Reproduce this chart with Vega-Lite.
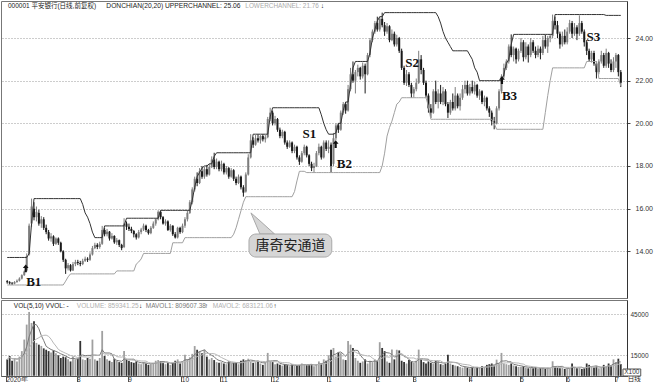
{
"$schema":"https://vega.github.io/schema/vega-lite/v6.json",
"padding":0,
"spacing":0,
"background":"white",
"config":{"view":{"stroke":"#777","strokeWidth":1},"font":"Liberation Sans"},
"datasets":{
"k":[
{"i":0,"o":12.60,"h":12.65,"l":12.48,"c":12.55,"v":12000,"up":13.71,"lo":12.42},
{"i":1,"o":12.55,"h":12.60,"l":12.44,"c":12.50,"v":14500,"up":13.71,"lo":12.42},
{"i":2,"o":12.50,"h":12.56,"l":12.42,"c":12.48,"v":11000,"up":13.71,"lo":12.42},
{"i":3,"o":12.48,"h":12.60,"l":12.45,"c":12.56,"v":13000,"up":13.71,"lo":12.42},
{"i":4,"o":12.56,"h":12.68,"l":12.52,"c":12.62,"v":10500,"up":13.71,"lo":12.42},
{"i":5,"o":12.62,"h":12.78,"l":12.58,"c":12.72,"v":14000,"up":13.71,"lo":12.42},
{"i":6,"o":12.72,"h":12.92,"l":12.68,"c":12.88,"v":18000,"up":13.71,"lo":12.42},
{"i":7,"o":12.88,"h":13.10,"l":12.85,"c":13.05,"v":26400,"up":13.71,"lo":12.42},
{"i":8,"o":13.10,"h":13.90,"l":13.05,"c":13.78,"v":37300,"up":13.71,"lo":12.42},
{"i":9,"o":13.85,"h":15.30,"l":13.80,"c":15.20,"v":46500,"up":13.9,"lo":12.42},
{"i":10,"o":15.30,"h":16.47,"l":15.15,"c":16.10,"v":38500,"up":15.3,"lo":12.42},
{"i":11,"o":16.00,"h":16.30,"l":15.45,"c":15.60,"v":39700,"up":16.47,"lo":12.42},
{"i":12,"o":15.60,"h":16.10,"l":15.40,"c":15.85,"v":24000,"up":16.47,"lo":12.42},
{"i":13,"o":15.80,"h":15.95,"l":15.20,"c":15.30,"v":22700,"up":16.47,"lo":12.42},
{"i":14,"o":15.30,"h":15.65,"l":15.10,"c":15.50,"v":21800,"up":16.47,"lo":12.42},
{"i":15,"o":15.50,"h":15.60,"l":15.00,"c":15.10,"v":20000,"up":16.47,"lo":12.42},
{"i":16,"o":15.10,"h":15.25,"l":14.80,"c":14.90,"v":19000,"up":16.47,"lo":12.42},
{"i":17,"o":14.90,"h":15.00,"l":14.50,"c":14.60,"v":18000,"up":16.47,"lo":12.42},
{"i":18,"o":14.60,"h":14.85,"l":14.45,"c":14.70,"v":17000,"up":16.47,"lo":12.42},
{"i":19,"o":14.70,"h":14.75,"l":14.25,"c":14.35,"v":18500,"up":16.47,"lo":12.42},
{"i":20,"o":14.35,"h":14.65,"l":14.30,"c":14.60,"v":16500,"up":16.47,"lo":12.42},
{"i":21,"o":14.60,"h":14.65,"l":14.30,"c":14.40,"v":15000,"up":16.47,"lo":12.42},
{"i":22,"o":14.40,"h":14.45,"l":13.95,"c":14.00,"v":13000,"up":16.47,"lo":12.42},
{"i":23,"o":14.00,"h":14.05,"l":13.50,"c":13.60,"v":14000,"up":16.47,"lo":12.42},
{"i":24,"o":13.60,"h":13.65,"l":12.94,"c":13.20,"v":13500,"up":16.47,"lo":12.6},
{"i":25,"o":13.20,"h":13.45,"l":13.10,"c":13.35,"v":12000,"up":16.47,"lo":12.8},
{"i":26,"o":13.35,"h":13.40,"l":13.05,"c":13.10,"v":10500,"up":16.47,"lo":12.94},
{"i":27,"o":13.10,"h":13.50,"l":13.08,"c":13.40,"v":14000,"up":16.47,"lo":12.94},
{"i":28,"o":13.40,"h":13.60,"l":13.30,"c":13.50,"v":12000,"up":16.47,"lo":12.94},
{"i":29,"o":13.50,"h":13.60,"l":13.35,"c":13.45,"v":12500,"up":16.47,"lo":12.94},
{"i":30,"o":13.45,"h":13.55,"l":13.30,"c":13.40,"v":25400,"up":16.47,"lo":12.94},
{"i":31,"o":13.40,"h":13.65,"l":13.35,"c":13.55,"v":12000,"up":16.2,"lo":12.94},
{"i":32,"o":13.55,"h":13.75,"l":13.50,"c":13.65,"v":11500,"up":15.8,"lo":12.94},
{"i":33,"o":13.65,"h":13.72,"l":13.50,"c":13.60,"v":13000,"up":15.6,"lo":12.94},
{"i":34,"o":13.60,"h":13.95,"l":13.55,"c":13.85,"v":12500,"up":15.3,"lo":12.94},
{"i":35,"o":13.85,"h":14.25,"l":13.80,"c":14.15,"v":26400,"up":14.9,"lo":12.94},
{"i":36,"o":14.15,"h":14.40,"l":14.10,"c":14.30,"v":12000,"up":14.64,"lo":12.94},
{"i":37,"o":14.30,"h":14.38,"l":14.10,"c":14.20,"v":11000,"up":14.64,"lo":12.94},
{"i":38,"o":14.20,"h":14.45,"l":14.12,"c":14.35,"v":13000,"up":14.64,"lo":12.94},
{"i":39,"o":14.35,"h":15.19,"l":14.30,"c":15.00,"v":32700,"up":14.64,"lo":12.94},
{"i":40,"o":15.00,"h":15.10,"l":14.70,"c":14.80,"v":14500,"up":15.19,"lo":12.94},
{"i":41,"o":14.80,"h":15.05,"l":14.70,"c":14.92,"v":12000,"up":15.19,"lo":12.94},
{"i":42,"o":14.92,"h":14.95,"l":14.50,"c":14.60,"v":11000,"up":15.19,"lo":12.94},
{"i":43,"o":14.60,"h":14.85,"l":14.55,"c":14.72,"v":10000,"up":15.19,"lo":12.94},
{"i":44,"o":14.72,"h":14.75,"l":14.35,"c":14.42,"v":12500,"up":15.19,"lo":12.94},
{"i":45,"o":14.42,"h":14.62,"l":14.30,"c":14.52,"v":11000,"up":15.19,"lo":13.08},
{"i":46,"o":14.52,"h":14.55,"l":14.20,"c":14.30,"v":10000,"up":15.19,"lo":13.08},
{"i":47,"o":14.30,"h":14.35,"l":14.05,"c":14.15,"v":9500,"up":15.19,"lo":13.08},
{"i":48,"o":14.20,"h":15.55,"l":14.15,"c":15.30,"v":18100,"up":15.19,"lo":13.08},
{"i":49,"o":15.30,"h":15.40,"l":15.00,"c":15.15,"v":12000,"up":15.55,"lo":13.08},
{"i":50,"o":15.15,"h":15.30,"l":14.95,"c":15.05,"v":11000,"up":15.55,"lo":13.08},
{"i":51,"o":15.05,"h":15.15,"l":14.85,"c":14.95,"v":10000,"up":15.55,"lo":13.08},
{"i":52,"o":14.95,"h":15.00,"l":14.65,"c":14.80,"v":9500,"up":15.55,"lo":13.08},
{"i":53,"o":14.80,"h":14.85,"l":14.55,"c":14.65,"v":10500,"up":15.55,"lo":13.4},
{"i":54,"o":14.65,"h":15.00,"l":14.60,"c":14.90,"v":9000,"up":15.55,"lo":13.5},
{"i":55,"o":14.90,"h":15.10,"l":14.80,"c":15.02,"v":8500,"up":15.55,"lo":13.64},
{"i":56,"o":15.02,"h":15.30,"l":14.95,"c":15.20,"v":10000,"up":15.55,"lo":13.9},
{"i":57,"o":15.20,"h":15.25,"l":14.90,"c":15.00,"v":9000,"up":15.55,"lo":13.9},
{"i":58,"o":15.00,"h":15.05,"l":14.78,"c":14.85,"v":8000,"up":15.55,"lo":13.9},
{"i":59,"o":14.85,"h":15.18,"l":14.80,"c":15.10,"v":8500,"up":15.55,"lo":13.9},
{"i":60,"o":15.10,"h":15.40,"l":15.05,"c":15.30,"v":9500,"up":15.55,"lo":13.9},
{"i":61,"o":15.30,"h":15.55,"l":15.20,"c":15.50,"v":11000,"up":15.55,"lo":13.9},
{"i":62,"o":15.50,"h":15.92,"l":15.45,"c":15.85,"v":11500,"up":15.55,"lo":13.9},
{"i":63,"o":15.85,"h":15.90,"l":15.50,"c":15.60,"v":10500,"up":15.92,"lo":13.9},
{"i":64,"o":15.60,"h":15.65,"l":15.25,"c":15.30,"v":9500,"up":15.92,"lo":13.9},
{"i":65,"o":15.30,"h":15.50,"l":15.20,"c":15.40,"v":8500,"up":15.92,"lo":13.9},
{"i":66,"o":15.40,"h":15.45,"l":14.95,"c":15.00,"v":10000,"up":15.92,"lo":13.9},
{"i":67,"o":15.00,"h":15.28,"l":14.92,"c":15.20,"v":8000,"up":15.92,"lo":13.9},
{"i":68,"o":15.20,"h":15.22,"l":14.72,"c":14.80,"v":9500,"up":15.92,"lo":14.4},
{"i":69,"o":14.80,"h":14.90,"l":14.60,"c":14.65,"v":11000,"up":15.92,"lo":14.4},
{"i":70,"o":14.65,"h":15.15,"l":14.60,"c":15.10,"v":12000,"up":15.92,"lo":14.4},
{"i":71,"o":15.10,"h":15.15,"l":14.82,"c":14.90,"v":9000,"up":15.92,"lo":14.4},
{"i":72,"o":14.90,"h":15.30,"l":14.85,"c":15.20,"v":10500,"up":15.92,"lo":14.4},
{"i":73,"o":15.20,"h":15.60,"l":15.10,"c":15.50,"v":15400,"up":15.92,"lo":14.64},
{"i":74,"o":15.50,"h":15.92,"l":15.40,"c":15.80,"v":12000,"up":15.92,"lo":14.64},
{"i":75,"o":15.80,"h":16.40,"l":15.75,"c":16.30,"v":13500,"up":15.92,"lo":14.64},
{"i":76,"o":16.30,"h":17.00,"l":16.20,"c":16.90,"v":16000,"up":16.4,"lo":14.64},
{"i":77,"o":16.90,"h":17.50,"l":16.80,"c":17.40,"v":21700,"up":17.0,"lo":14.64},
{"i":78,"o":17.40,"h":17.70,"l":17.05,"c":17.20,"v":19000,"up":17.5,"lo":14.64},
{"i":79,"o":17.20,"h":17.90,"l":17.15,"c":17.75,"v":18000,"up":17.7,"lo":14.64},
{"i":80,"o":17.75,"h":18.00,"l":17.40,"c":17.50,"v":16500,"up":17.9,"lo":14.64},
{"i":81,"o":17.50,"h":17.95,"l":17.40,"c":17.85,"v":19100,"up":18.0,"lo":14.64},
{"i":82,"o":17.85,"h":18.05,"l":17.50,"c":17.60,"v":14000,"up":18.0,"lo":14.64},
{"i":83,"o":17.60,"h":18.10,"l":17.55,"c":17.95,"v":12000,"up":18.1,"lo":14.64},
{"i":84,"o":17.95,"h":18.45,"l":17.90,"c":18.30,"v":13000,"up":18.1,"lo":14.64},
{"i":85,"o":18.30,"h":18.62,"l":17.85,"c":17.95,"v":11500,"up":18.45,"lo":14.64},
{"i":86,"o":17.95,"h":18.35,"l":17.85,"c":18.20,"v":10000,"up":18.62,"lo":14.64},
{"i":87,"o":18.20,"h":18.25,"l":17.75,"c":17.85,"v":9500,"up":18.62,"lo":14.64},
{"i":88,"o":17.85,"h":18.25,"l":17.75,"c":18.10,"v":10000,"up":18.62,"lo":14.64},
{"i":89,"o":18.10,"h":18.15,"l":17.60,"c":17.70,"v":9000,"up":18.62,"lo":14.64},
{"i":90,"o":17.70,"h":18.00,"l":17.60,"c":17.90,"v":8500,"up":18.62,"lo":14.64},
{"i":91,"o":17.90,"h":17.95,"l":17.40,"c":17.50,"v":10500,"up":18.62,"lo":14.64},
{"i":92,"o":17.50,"h":17.90,"l":17.45,"c":17.80,"v":9000,"up":18.62,"lo":14.64},
{"i":93,"o":17.80,"h":17.85,"l":17.30,"c":17.40,"v":9500,"up":18.62,"lo":14.8},
{"i":94,"o":17.40,"h":17.50,"l":17.10,"c":17.20,"v":10000,"up":18.62,"lo":15.1},
{"i":95,"o":17.20,"h":17.60,"l":17.15,"c":17.50,"v":8500,"up":18.62,"lo":15.5},
{"i":96,"o":17.50,"h":17.55,"l":16.90,"c":17.00,"v":11000,"up":18.62,"lo":15.9},
{"i":97,"o":17.00,"h":17.10,"l":16.56,"c":16.75,"v":12000,"up":18.62,"lo":16.3},
{"i":98,"o":16.80,"h":17.70,"l":16.75,"c":17.60,"v":11500,"up":18.62,"lo":16.56},
{"i":99,"o":17.60,"h":18.55,"l":17.55,"c":18.40,"v":12500,"up":18.62,"lo":16.56},
{"i":100,"o":18.40,"h":19.49,"l":18.35,"c":19.20,"v":10500,"up":18.62,"lo":16.56},
{"i":101,"o":19.20,"h":19.35,"l":18.85,"c":19.00,"v":9500,"up":19.49,"lo":16.56},
{"i":102,"o":19.00,"h":19.45,"l":18.95,"c":19.30,"v":10000,"up":19.49,"lo":16.56},
{"i":103,"o":19.30,"h":19.48,"l":19.10,"c":19.20,"v":11000,"up":19.49,"lo":16.56},
{"i":104,"o":19.20,"h":19.45,"l":19.05,"c":19.40,"v":9000,"up":19.49,"lo":16.56},
{"i":105,"o":19.40,"h":19.49,"l":19.15,"c":19.25,"v":8000,"up":19.49,"lo":16.56},
{"i":106,"o":19.25,"h":19.45,"l":19.10,"c":19.35,"v":9500,"up":19.49,"lo":16.56},
{"i":107,"o":19.35,"h":20.30,"l":19.30,"c":20.20,"v":16700,"up":19.49,"lo":16.56},
{"i":108,"o":20.20,"h":20.73,"l":20.10,"c":20.50,"v":10500,"up":20.3,"lo":16.56},
{"i":109,"o":20.50,"h":20.60,"l":19.90,"c":20.00,"v":10000,"up":20.73,"lo":16.56},
{"i":110,"o":20.00,"h":20.35,"l":19.90,"c":20.20,"v":8500,"up":20.73,"lo":16.56},
{"i":111,"o":20.20,"h":20.25,"l":19.60,"c":19.70,"v":9000,"up":20.73,"lo":16.56},
{"i":112,"o":19.70,"h":19.80,"l":19.30,"c":19.40,"v":8000,"up":20.73,"lo":16.56},
{"i":113,"o":19.40,"h":19.70,"l":19.30,"c":19.60,"v":7500,"up":20.73,"lo":16.56},
{"i":114,"o":19.60,"h":19.65,"l":19.00,"c":19.10,"v":8500,"up":20.73,"lo":16.56},
{"i":115,"o":19.10,"h":19.20,"l":18.80,"c":18.90,"v":7800,"up":20.73,"lo":16.56},
{"i":116,"o":18.90,"h":19.20,"l":18.85,"c":19.10,"v":7000,"up":20.73,"lo":16.56},
{"i":117,"o":19.10,"h":19.15,"l":18.60,"c":18.70,"v":8200,"up":20.73,"lo":16.56},
{"i":118,"o":18.70,"h":19.00,"l":18.60,"c":18.90,"v":7500,"up":20.73,"lo":16.8},
{"i":119,"o":18.90,"h":18.95,"l":18.30,"c":18.40,"v":7600,"up":20.73,"lo":17.3},
{"i":120,"o":18.40,"h":18.50,"l":18.05,"c":18.20,"v":8000,"up":20.73,"lo":17.75},
{"i":121,"o":18.20,"h":18.70,"l":18.15,"c":18.60,"v":9000,"up":20.73,"lo":17.75},
{"i":122,"o":18.60,"h":19.00,"l":18.50,"c":18.90,"v":8500,"up":20.73,"lo":17.75},
{"i":123,"o":18.90,"h":18.95,"l":18.40,"c":18.50,"v":7800,"up":20.73,"lo":17.69},
{"i":124,"o":18.50,"h":18.55,"l":18.00,"c":18.10,"v":8000,"up":20.73,"lo":17.69},
{"i":125,"o":18.10,"h":18.20,"l":17.76,"c":17.90,"v":8500,"up":20.73,"lo":17.69},
{"i":126,"o":17.90,"h":18.15,"l":17.69,"c":18.00,"v":7000,"up":20.73,"lo":17.69},
{"i":127,"o":18.00,"h":18.70,"l":17.95,"c":18.60,"v":8500,"up":20.73,"lo":17.69},
{"i":128,"o":18.60,"h":19.05,"l":18.50,"c":18.90,"v":10500,"up":20.73,"lo":17.69},
{"i":129,"o":18.90,"h":18.95,"l":18.30,"c":18.40,"v":9000,"up":20.4,"lo":17.69},
{"i":130,"o":18.40,"h":19.20,"l":18.35,"c":19.10,"v":12000,"up":20.0,"lo":17.69},
{"i":131,"o":19.10,"h":19.20,"l":18.70,"c":18.80,"v":11000,"up":19.7,"lo":17.69},
{"i":132,"o":18.80,"h":19.20,"l":18.60,"c":18.90,"v":15000,"up":19.49,"lo":17.69},
{"i":133,"o":19.00,"h":19.10,"l":17.70,"c":18.00,"v":19000,"up":19.49,"lo":17.69},
{"i":134,"o":18.10,"h":19.55,"l":18.00,"c":19.30,"v":20300,"up":19.49,"lo":17.69},
{"i":135,"o":19.30,"h":20.00,"l":19.20,"c":19.90,"v":14000,"up":19.55,"lo":17.69},
{"i":136,"o":19.90,"h":20.00,"l":19.55,"c":19.70,"v":17000,"up":20.0,"lo":17.69},
{"i":137,"o":19.70,"h":20.60,"l":19.65,"c":20.50,"v":16500,"up":20.0,"lo":17.69},
{"i":138,"o":20.50,"h":21.00,"l":20.40,"c":20.90,"v":12000,"up":20.6,"lo":17.69},
{"i":139,"o":20.90,"h":21.00,"l":20.45,"c":20.60,"v":11500,"up":21.0,"lo":17.69},
{"i":140,"o":20.60,"h":21.80,"l":20.55,"c":21.60,"v":25400,"up":21.0,"lo":17.69},
{"i":141,"o":21.60,"h":22.60,"l":21.50,"c":22.30,"v":22700,"up":21.8,"lo":17.69},
{"i":142,"o":22.30,"h":22.90,"l":21.90,"c":22.00,"v":20300,"up":22.6,"lo":17.69},
{"i":143,"o":22.00,"h":22.50,"l":21.40,"c":22.40,"v":13000,"up":22.9,"lo":17.69},
{"i":144,"o":22.40,"h":22.75,"l":22.20,"c":22.60,"v":11000,"up":22.9,"lo":17.69},
{"i":145,"o":22.60,"h":22.65,"l":22.05,"c":22.20,"v":9500,"up":22.9,"lo":17.69},
{"i":146,"o":22.20,"h":22.85,"l":22.10,"c":22.70,"v":10500,"up":22.9,"lo":17.69},
{"i":147,"o":22.70,"h":22.80,"l":21.40,"c":22.30,"v":12000,"up":22.9,"lo":17.69},
{"i":148,"o":22.30,"h":23.30,"l":22.25,"c":23.20,"v":9000,"up":22.9,"lo":17.69},
{"i":149,"o":23.20,"h":24.00,"l":23.10,"c":23.90,"v":11000,"up":23.3,"lo":17.69},
{"i":150,"o":23.90,"h":24.40,"l":23.80,"c":24.30,"v":10000,"up":24.0,"lo":17.69},
{"i":151,"o":24.30,"h":24.80,"l":24.20,"c":24.70,"v":11800,"up":24.4,"lo":17.69},
{"i":152,"o":24.70,"h":25.00,"l":24.30,"c":24.40,"v":11000,"up":24.8,"lo":17.69},
{"i":153,"o":24.40,"h":25.00,"l":24.30,"c":24.90,"v":24500,"up":25.0,"lo":17.69},
{"i":154,"o":24.90,"h":25.19,"l":24.50,"c":24.60,"v":20300,"up":25.0,"lo":18.0},
{"i":155,"o":24.60,"h":24.75,"l":24.10,"c":24.30,"v":18000,"up":25.19,"lo":18.6},
{"i":156,"o":24.30,"h":24.70,"l":24.20,"c":24.55,"v":10500,"up":25.19,"lo":19.4},
{"i":157,"o":24.55,"h":24.60,"l":23.80,"c":23.90,"v":9500,"up":25.19,"lo":19.8},
{"i":158,"o":23.90,"h":24.40,"l":23.85,"c":24.20,"v":19100,"up":25.19,"lo":20.1},
{"i":159,"o":24.20,"h":24.30,"l":23.60,"c":23.70,"v":12000,"up":25.19,"lo":20.5},
{"i":160,"o":23.70,"h":24.15,"l":23.60,"c":24.00,"v":19000,"up":25.19,"lo":20.9},
{"i":161,"o":24.00,"h":24.05,"l":23.30,"c":23.40,"v":18500,"up":25.19,"lo":21.0},
{"i":162,"o":23.40,"h":23.50,"l":22.50,"c":22.60,"v":11000,"up":25.19,"lo":21.2},
{"i":163,"o":22.60,"h":22.70,"l":21.80,"c":21.90,"v":10000,"up":25.19,"lo":21.2},
{"i":164,"o":21.90,"h":22.50,"l":21.75,"c":22.30,"v":9000,"up":25.19,"lo":21.2},
{"i":165,"o":22.30,"h":22.40,"l":21.70,"c":21.80,"v":11500,"up":25.19,"lo":21.2},
{"i":166,"o":21.80,"h":21.90,"l":21.20,"c":21.40,"v":10500,"up":25.19,"lo":21.2},
{"i":167,"o":21.40,"h":21.70,"l":21.20,"c":21.60,"v":9500,"up":25.19,"lo":21.2},
{"i":168,"o":21.60,"h":22.10,"l":21.50,"c":21.90,"v":11000,"up":25.19,"lo":21.2},
{"i":169,"o":21.90,"h":23.40,"l":21.85,"c":23.00,"v":19100,"up":25.19,"lo":21.2},
{"i":170,"o":23.00,"h":23.20,"l":22.30,"c":22.50,"v":12000,"up":25.19,"lo":21.2},
{"i":171,"o":22.50,"h":22.60,"l":21.80,"c":21.90,"v":10000,"up":25.19,"lo":21.2},
{"i":172,"o":21.90,"h":22.00,"l":21.20,"c":21.30,"v":9000,"up":25.19,"lo":21.2},
{"i":173,"o":21.30,"h":21.40,"l":20.50,"c":20.70,"v":10500,"up":25.19,"lo":20.8},
{"i":174,"o":20.70,"h":20.90,"l":20.25,"c":20.50,"v":9500,"up":25.19,"lo":20.19},
{"i":175,"o":20.50,"h":21.60,"l":20.45,"c":21.50,"v":9000,"up":25.19,"lo":20.19},
{"i":176,"o":21.50,"h":22.00,"l":20.90,"c":21.00,"v":11000,"up":25.19,"lo":20.19},
{"i":177,"o":21.00,"h":21.60,"l":20.70,"c":21.40,"v":10500,"up":25.0,"lo":20.19},
{"i":178,"o":21.40,"h":21.80,"l":20.90,"c":21.00,"v":8500,"up":24.7,"lo":20.19},
{"i":179,"o":21.00,"h":21.70,"l":20.85,"c":21.50,"v":8000,"up":24.3,"lo":20.19},
{"i":180,"o":21.50,"h":21.60,"l":20.80,"c":20.90,"v":9000,"up":24.0,"lo":20.19},
{"i":181,"o":20.90,"h":21.00,"l":20.25,"c":20.50,"v":15400,"up":23.8,"lo":20.19},
{"i":182,"o":20.50,"h":21.10,"l":20.40,"c":21.00,"v":9000,"up":23.6,"lo":20.19},
{"i":183,"o":21.00,"h":21.40,"l":20.60,"c":20.70,"v":8000,"up":23.4,"lo":20.19},
{"i":184,"o":20.70,"h":21.70,"l":20.60,"c":21.30,"v":7500,"up":23.4,"lo":20.19},
{"i":185,"o":21.30,"h":21.40,"l":20.70,"c":20.80,"v":7000,"up":23.4,"lo":20.19},
{"i":186,"o":20.80,"h":21.40,"l":20.60,"c":21.20,"v":6500,"up":23.4,"lo":20.19},
{"i":187,"o":21.20,"h":21.80,"l":21.10,"c":21.60,"v":6000,"up":23.4,"lo":20.19},
{"i":188,"o":21.60,"h":22.00,"l":21.40,"c":21.80,"v":6500,"up":23.4,"lo":20.19},
{"i":189,"o":21.80,"h":22.00,"l":21.30,"c":21.40,"v":6000,"up":23.4,"lo":20.19},
{"i":190,"o":21.40,"h":21.85,"l":21.30,"c":21.70,"v":5500,"up":23.2,"lo":20.19},
{"i":191,"o":21.70,"h":22.00,"l":21.40,"c":21.50,"v":6000,"up":23.0,"lo":20.19},
{"i":192,"o":21.50,"h":21.95,"l":21.35,"c":21.80,"v":5500,"up":22.6,"lo":20.19},
{"i":193,"o":21.80,"h":21.85,"l":21.20,"c":21.30,"v":6500,"up":22.4,"lo":20.19},
{"i":194,"o":21.30,"h":21.60,"l":21.10,"c":21.50,"v":6000,"up":22.0,"lo":20.19},
{"i":195,"o":21.50,"h":21.55,"l":20.90,"c":21.00,"v":7000,"up":22.0,"lo":20.19},
{"i":196,"o":21.00,"h":21.30,"l":20.80,"c":21.20,"v":6500,"up":22.0,"lo":20.19},
{"i":197,"o":21.20,"h":21.25,"l":20.60,"c":20.70,"v":8000,"up":22.0,"lo":20.19},
{"i":198,"o":20.70,"h":20.80,"l":20.30,"c":20.50,"v":8500,"up":22.0,"lo":20.19},
{"i":199,"o":20.50,"h":20.60,"l":19.90,"c":20.10,"v":9000,"up":22.0,"lo":20.19},
{"i":200,"o":20.10,"h":20.30,"l":19.72,"c":20.00,"v":7500,"up":22.0,"lo":20.0},
{"i":201,"o":20.00,"h":20.80,"l":19.95,"c":20.70,"v":11800,"up":22.0,"lo":19.72},
{"i":202,"o":20.70,"h":21.60,"l":20.60,"c":21.50,"v":9000,"up":22.0,"lo":19.72},
{"i":203,"o":21.50,"h":22.30,"l":21.40,"c":22.20,"v":16700,"up":22.0,"lo":19.72},
{"i":204,"o":22.20,"h":22.80,"l":22.10,"c":22.60,"v":9000,"up":22.3,"lo":19.72},
{"i":205,"o":22.60,"h":23.00,"l":22.50,"c":22.90,"v":8500,"up":22.8,"lo":19.72},
{"i":206,"o":22.90,"h":23.70,"l":22.80,"c":23.60,"v":8000,"up":23.0,"lo":19.72},
{"i":207,"o":23.60,"h":24.17,"l":23.10,"c":23.20,"v":9000,"up":23.7,"lo":19.72},
{"i":208,"o":23.20,"h":23.60,"l":22.90,"c":23.50,"v":7500,"up":24.17,"lo":19.72},
{"i":209,"o":23.50,"h":23.55,"l":22.80,"c":23.00,"v":7000,"up":24.17,"lo":19.72},
{"i":210,"o":23.00,"h":23.50,"l":22.90,"c":23.40,"v":6500,"up":24.17,"lo":19.72},
{"i":211,"o":23.40,"h":24.00,"l":23.30,"c":23.80,"v":6500,"up":24.17,"lo":19.72},
{"i":212,"o":23.80,"h":23.90,"l":22.90,"c":23.10,"v":7000,"up":24.17,"lo":19.72},
{"i":213,"o":23.10,"h":23.80,"l":23.00,"c":23.60,"v":6000,"up":24.17,"lo":19.72},
{"i":214,"o":23.60,"h":23.70,"l":22.85,"c":23.20,"v":5500,"up":24.17,"lo":19.72},
{"i":215,"o":23.20,"h":24.00,"l":23.10,"c":23.80,"v":6000,"up":24.17,"lo":19.72},
{"i":216,"o":23.80,"h":23.90,"l":23.30,"c":23.40,"v":5500,"up":24.17,"lo":19.72},
{"i":217,"o":23.40,"h":23.60,"l":23.05,"c":23.20,"v":6500,"up":24.17,"lo":19.72},
{"i":218,"o":23.20,"h":23.65,"l":23.10,"c":23.50,"v":5000,"up":24.17,"lo":19.72},
{"i":219,"o":23.50,"h":23.60,"l":23.00,"c":23.30,"v":5500,"up":24.17,"lo":19.72},
{"i":220,"o":23.30,"h":24.10,"l":23.20,"c":23.90,"v":5800,"up":24.17,"lo":19.72},
{"i":221,"o":23.90,"h":24.15,"l":23.50,"c":23.60,"v":5200,"up":24.17,"lo":20.5},
{"i":222,"o":23.60,"h":24.10,"l":23.30,"c":24.00,"v":6000,"up":24.17,"lo":21.3},
{"i":223,"o":24.00,"h":24.17,"l":23.80,"c":24.10,"v":5500,"up":24.17,"lo":22.0},
{"i":224,"o":24.10,"h":25.10,"l":24.00,"c":24.80,"v":10600,"up":24.17,"lo":22.6},
{"i":225,"o":24.80,"h":25.00,"l":24.40,"c":24.60,"v":6500,"up":25.1,"lo":22.6},
{"i":226,"o":24.60,"h":24.80,"l":24.00,"c":24.20,"v":6000,"up":25.1,"lo":22.6},
{"i":227,"o":24.20,"h":24.30,"l":23.50,"c":23.70,"v":5500,"up":25.1,"lo":22.6},
{"i":228,"o":23.70,"h":24.30,"l":23.60,"c":24.10,"v":6000,"up":25.1,"lo":22.6},
{"i":229,"o":24.10,"h":24.40,"l":23.70,"c":23.80,"v":5000,"up":25.1,"lo":22.6},
{"i":230,"o":23.80,"h":24.50,"l":23.70,"c":24.30,"v":5500,"up":25.1,"lo":22.6},
{"i":231,"o":24.30,"h":24.85,"l":24.20,"c":24.70,"v":5000,"up":25.1,"lo":22.6},
{"i":232,"o":24.70,"h":24.80,"l":24.00,"c":24.20,"v":9000,"up":25.1,"lo":22.6},
{"i":233,"o":24.20,"h":24.70,"l":24.10,"c":24.50,"v":6000,"up":25.1,"lo":22.6},
{"i":234,"o":24.50,"h":24.60,"l":23.90,"c":24.20,"v":5500,"up":25.1,"lo":22.6},
{"i":235,"o":24.20,"h":25.06,"l":24.10,"c":24.70,"v":6000,"up":25.1,"lo":22.6},
{"i":236,"o":24.70,"h":24.80,"l":24.20,"c":24.30,"v":5000,"up":25.1,"lo":22.6},
{"i":237,"o":24.30,"h":24.40,"l":23.60,"c":23.80,"v":5500,"up":25.1,"lo":22.6},
{"i":238,"o":23.80,"h":23.90,"l":23.20,"c":23.40,"v":9000,"up":25.1,"lo":22.9},
{"i":239,"o":23.40,"h":23.50,"l":22.90,"c":23.00,"v":8000,"up":25.1,"lo":22.9},
{"i":240,"o":23.00,"h":23.40,"l":22.85,"c":23.30,"v":6500,"up":25.1,"lo":22.9},
{"i":241,"o":23.30,"h":23.40,"l":22.70,"c":22.80,"v":6000,"up":25.1,"lo":22.9},
{"i":242,"o":22.80,"h":22.90,"l":22.10,"c":22.40,"v":7000,"up":25.1,"lo":22.9},
{"i":243,"o":22.40,"h":23.00,"l":22.30,"c":22.90,"v":5500,"up":25.1,"lo":22.1},
{"i":244,"o":22.90,"h":23.40,"l":22.80,"c":23.20,"v":6000,"up":25.1,"lo":22.1},
{"i":245,"o":23.20,"h":23.30,"l":22.60,"c":22.70,"v":8000,"up":25.1,"lo":22.1},
{"i":246,"o":22.70,"h":23.50,"l":22.60,"c":23.30,"v":7000,"up":25.06,"lo":22.1},
{"i":247,"o":23.30,"h":23.35,"l":22.60,"c":22.80,"v":9000,"up":25.06,"lo":22.1},
{"i":248,"o":22.80,"h":23.00,"l":22.40,"c":22.50,"v":7500,"up":25.06,"lo":22.1},
{"i":249,"o":22.50,"h":23.10,"l":22.40,"c":22.90,"v":12000,"up":25.06,"lo":22.1},
{"i":250,"o":22.90,"h":23.30,"l":22.60,"c":23.20,"v":10000,"up":25.06,"lo":22.1},
{"i":251,"o":23.20,"h":23.25,"l":22.20,"c":22.40,"v":12500,"up":25.06,"lo":22.1},
{"i":252,"o":22.40,"h":22.50,"l":21.70,"c":21.90,"v":8593,"up":25.06,"lo":21.76}
],
"notes":[
{"g":"sig","i":10.9,"p":12.55,"t":"B1"},
{"g":"sig","i":124.1,"p":19.51,"t":"S1"},
{"g":"sig","i":138.5,"p":18.10,"t":"B2"},
{"g":"sig","i":166.3,"p":22.84,"t":"S2"},
{"g":"sig","i":206.3,"p":21.27,"t":"B3"},
{"g":"sig","i":240.7,"p":24.04,"t":"S3"},
{"g":"call","i":116.3,"p":14.27,"t":"唐奇安通道"},
{"g":"hc","i":0.3,"p":25.5,"t":"000001 平安银行(日线,前复权)"},
{"g":"hd","i":40.7,"p":25.5,"t":"DONCHIAN(20,20) UPPERCHANNEL: 25.06"},
{"g":"hl","i":97.8,"p":25.5,"t":"LOWERCHANNEL: 21.76"},
{"g":"hd","i":128.8,"p":25.5,"t":"↓"}
],
"arr":[{"i":7.6,"p":13.2},{"i":134.9,"p":19.02},{"i":203.2,"p":22.02}],
"wedge":[{"i":100.1,"a":15.80,"b":15.80},{"i":103.8,"a":15.43,"b":14.81},{"i":109.8,"a":14.81,"b":14.81}],
"box":[{"i0":99.3,"i1":133.3,"p0":14.81,"p1":13.73}],
"vnotes":[
{"g":"vd","i":2.7,"v":50840,"t":"VOL(5,10) VVOL: -"},
{"g":"vl","i":28.6,"v":50840,"t":"VOLUME: 859341.25"},
{"g":"vd","i":54.1,"v":50840,"t":"↓"},
{"g":"vm","i":56.9,"v":50840,"t":"MAVOL1: 809607.38"},
{"g":"vd","i":81.1,"v":50840,"t":"↑"},
{"g":"vl","i":84.4,"v":50840,"t":"MAVOL2: 683121.06"},
{"g":"vd","i":109.4,"v":50840,"t":"↑"},
{"g":"vd","i":254.9,"v":-2300,"t":"日线"}
],
"xbox":[{"i0":252.9,"i1":260.2,"v0":-100,"v1":5000,"im":256.55,"vm":2450,"t":"X100"}]
},
"vconcat":[
{
"width":626,"height":297,
"layer":[
{"data":{"name":"k"},"mark":{"type":"rule","strokeWidth":1},
"encoding":{
"x":{"field":"i","type":"quantitative","scale":{"domain":[-0.5,252.5],"nice":false,"zero":false},"axis":null},
"y":{"field":"l","type":"quantitative","scale":{"domain":[11.81,25.735],"nice":false,"zero":false},
"axis":{"orient":"right","values":[14,15,16,17,18,19,20,21,22,23,24],"format":".2f","title":null,"grid":true,"gridDash":[1,2],"gridColor":"#9a9a9a","gridWidth":1,"tickSize":3,"tickColor":"#444","labelPadding":5,"labelFontSize":7,"labelColor":"#333","domainColor":"#333"}},
"y2":{"field":"h"},
"color":{"condition":{"test":"datum.c >= datum.o","value":"#7d7d7d"},"value":"#1a1a1a"}}},
{"data":{"name":"k"},"mark":{"type":"bar","size":2},
"encoding":{
"x":{"field":"i","type":"quantitative"},
"y":{"field":"o","type":"quantitative"},
"y2":{"field":"c"},
"color":{"condition":{"test":"datum.c >= datum.o","value":"#7d7d7d"},"value":"#1a1a1a"}}},
{"data":{"name":"k"},"mark":{"type":"line","color":"#333333","strokeWidth":1},
"encoding":{"x":{"field":"i","type":"quantitative"},"y":{"field":"up","type":"quantitative"}}},
{"data":{"name":"k"},"mark":{"type":"line","color":"#a0a0a0","strokeWidth":1},
"encoding":{"x":{"field":"i","type":"quantitative"},"y":{"field":"lo","type":"quantitative"}}},
{"data":{"name":"wedge"},"mark":{"type":"area","fill":"#d6d6d6","stroke":"#a8a8a8","strokeWidth":1},
"encoding":{"x":{"field":"i","type":"quantitative"},"y":{"field":"a","type":"quantitative"},"y2":{"field":"b"}}},
{"data":{"name":"box"},"mark":{"type":"rect","fill":"#d6d6d6","stroke":"#a8a8a8","strokeWidth":1,"cornerRadius":7},
"encoding":{"x":{"field":"i0","type":"quantitative"},"x2":{"field":"i1"},"y":{"field":"p0","type":"quantitative"},"y2":{"field":"p1"}}},
{"data":{"name":"arr"},"mark":{"type":"point","shape":"M0,-1L0.75,-0.1L0.28,-0.1L0.28,1L-0.28,1L-0.28,-0.1L-0.75,-0.1Z","filled":true,"color":"#111","size":60,"opacity":1},
"encoding":{"x":{"field":"i","type":"quantitative"},"y":{"field":"p","type":"quantitative"}}},
{"data":{"name":"notes"},"transform":[{"filter":"datum.g == 'sig'"}],
"mark":{"type":"text","font":"Liberation Serif","fontWeight":"bold","fontSize":13,"color":"#111","align":"center","baseline":"middle"},
"encoding":{"x":{"field":"i","type":"quantitative"},"y":{"field":"p","type":"quantitative"},"text":{"field":"t"}}},
{"data":{"name":"notes"},"transform":[{"filter":"datum.g == 'call'"}],
"mark":{"type":"text","font":"Noto Sans CJK SC","fontSize":14,"color":"#222","align":"center","baseline":"middle"},
"encoding":{"x":{"field":"i","type":"quantitative"},"y":{"field":"p","type":"quantitative"},"text":{"field":"t"}}},
{"data":{"name":"notes"},"transform":[{"filter":"datum.g == 'hc'"}],
"mark":{"type":"text","font":"Liberation Sans, Noto Sans CJK SC","fontSize":6.5,"color":"#222","align":"left","baseline":"middle"},
"encoding":{"x":{"field":"i","type":"quantitative"},"y":{"field":"p","type":"quantitative"},"text":{"field":"t"}}},
{"data":{"name":"notes"},"transform":[{"filter":"datum.g == 'hd'"}],
"mark":{"type":"text","font":"Liberation Sans, Noto Sans CJK SC","fontSize":6.7,"color":"#222","align":"left","baseline":"middle"},
"encoding":{"x":{"field":"i","type":"quantitative"},"y":{"field":"p","type":"quantitative"},"text":{"field":"t"}}},
{"data":{"name":"notes"},"transform":[{"filter":"datum.g == 'hl'"}],
"mark":{"type":"text","font":"Liberation Sans","fontSize":6.4,"color":"#aaaaaa","align":"left","baseline":"middle"},
"encoding":{"x":{"field":"i","type":"quantitative"},"y":{"field":"p","type":"quantitative"},"text":{"field":"t"}}}
]
},
{
"width":626,"height":76,
"layer":[
{"data":{"name":"k"},"mark":{"type":"bar","size":1.8},
"encoding":{
"x":{"field":"i","type":"quantitative","scale":{"domain":[-0.5,252.5],"nice":false,"zero":false},
"axis":{"orient":"bottom","values":[-0.5,28.5,49.5,71.5,87.5,108.5,131.5,151.5,166.5,189.5,210.5,229.5,249.5],
"labelExpr":"['2020年','8','9','10','11','12','1','2','3','4','5','6','7'][indexof([-0.5,28.5,49.5,71.5,87.5,108.5,131.5,151.5,166.5,189.5,210.5,229.5,249.5], datum.value)]",
"tickSize":8,"tickColor":"#555","labelAlign":"left","labelBaseline":"top","labelPadding":-8,"labelDx":1,"labelFontSize":6.5,"labelColor":"#333","domainColor":"#555","grid":false,"title":null,"labelOverlap":false,"labelFlush":false,"labelBound":false}},
"y":{"field":"v","type":"quantitative","scale":{"domain":[-100,55200],"nice":false,"zero":false},
"axis":{"orient":"right","values":[15000,30000,45000],"format":"d","title":null,"grid":true,"gridDash":[1,2],"gridColor":"#9a9a9a","tickSize":0,"labelPadding":3,"labelFontSize":6.5,"labelColor":"#333","domainColor":"#333"}},
"color":{"condition":{"test":"datum.c >= datum.o","value":"#a0a0a0"},"value":"#333333"}}},
{"data":{"name":"k"},"transform":[{"window":[{"op":"mean","field":"v","as":"m5"}],"frame":[-4,0],"sort":[{"field":"i","order":"ascending"}]}],
"mark":{"type":"line","color":"#7a7a7a","strokeWidth":1},
"encoding":{"x":{"field":"i","type":"quantitative"},"y":{"field":"m5","type":"quantitative"}}},
{"data":{"name":"k"},"transform":[{"window":[{"op":"mean","field":"v","as":"m10"}],"frame":[-9,0],"sort":[{"field":"i","order":"ascending"}]}],
"mark":{"type":"line","color":"#b8b8b8","strokeWidth":1},
"encoding":{"x":{"field":"i","type":"quantitative"},"y":{"field":"m10","type":"quantitative"}}},
{"data":{"name":"vnotes"},"transform":[{"filter":"datum.g == 'vd'"}],
"mark":{"type":"text","font":"Liberation Sans, Noto Sans CJK SC","fontSize":6.5,"color":"#222","align":"left","baseline":"middle"},
"encoding":{"x":{"field":"i","type":"quantitative"},"y":{"field":"v","type":"quantitative"},"text":{"field":"t"}}},
{"data":{"name":"vnotes"},"transform":[{"filter":"datum.g == 'vl'"}],
"mark":{"type":"text","font":"Liberation Sans","fontSize":6.5,"color":"#b0b0b0","align":"left","baseline":"middle"},
"encoding":{"x":{"field":"i","type":"quantitative"},"y":{"field":"v","type":"quantitative"},"text":{"field":"t"}}},
{"data":{"name":"vnotes"},"transform":[{"filter":"datum.g == 'vm'"}],
"mark":{"type":"text","font":"Liberation Sans","fontSize":6.5,"color":"#7a7a7a","align":"left","baseline":"middle"},
"encoding":{"x":{"field":"i","type":"quantitative"},"y":{"field":"v","type":"quantitative"},"text":{"field":"t"}}},
{"data":{"name":"xbox"},"mark":{"type":"rect","fill":"white","stroke":"#555","strokeWidth":1},
"encoding":{"x":{"field":"i0","type":"quantitative"},"x2":{"field":"i1"},"y":{"field":"v0","type":"quantitative"},"y2":{"field":"v1"}}},
{"data":{"name":"xbox"},"mark":{"type":"text","font":"Liberation Sans","fontSize":6.5,"color":"#333","align":"center","baseline":"middle"},
"encoding":{"x":{"field":"im","type":"quantitative"},"y":{"field":"vm","type":"quantitative"},"text":{"field":"t"}}}
]
}
]
}
